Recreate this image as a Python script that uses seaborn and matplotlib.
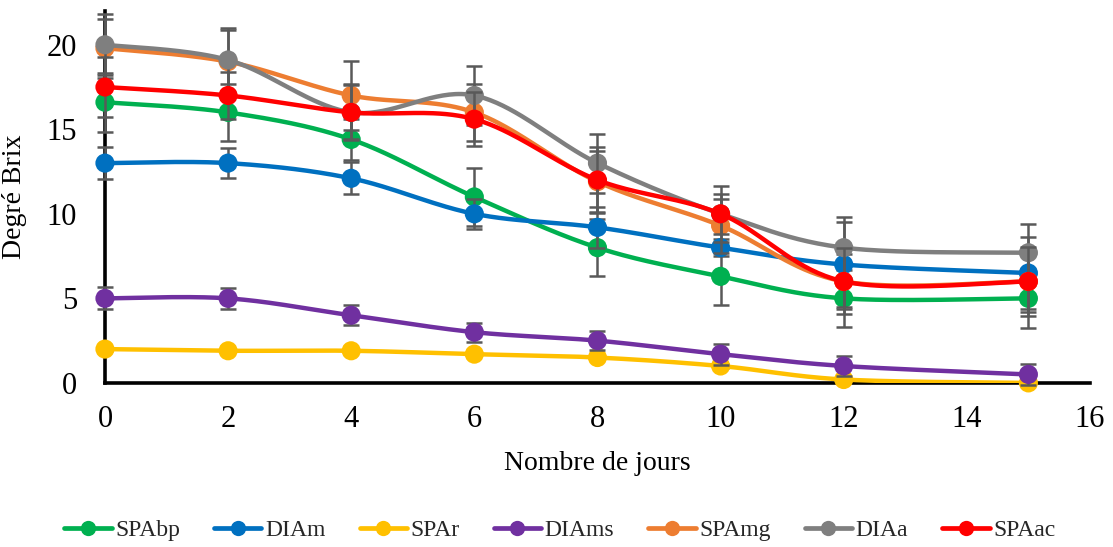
import numpy as np
import pandas as pd
import matplotlib
matplotlib.use("Agg")
import matplotlib.pyplot as plt
import seaborn as sns
from matplotlib.lines import Line2D

# Days of fermentation and Brix readings per preparation
days = [0, 2, 4, 6, 8, 10, 12, 15]
series_names = ["SPAbp", "DIAm", "SPAr", "DIAms", "SPAmg", "DIAa", "SPAac"]

spabp = [16.6, 16.0, 14.4, 11.0, 8.0, 6.3, 5.0, 5.0]
diam = [13.0, 13.0, 12.1, 10.0, 9.2, 8.0, 7.0, 6.5]
spar = [2.0, 1.9, 1.9, 1.7, 1.5, 1.0, 0.2, 0.0]
diams = [5.0, 5.0, 4.0, 3.0, 2.5, 1.7, 1.0, 0.5]
spamg = [19.8, 19.0, 17.0, 16.0, 11.9, 9.3, 6.0, 6.0]
diaa = [20.0, 19.1, 16.0, 17.0, 13.0, 10.0, 8.0, 7.7]
spaac = [17.5, 17.0, 16.0, 15.6, 12.0, 10.0, 6.0, 6.0]

# Standard deviations
spabp_err = [1.75, 1.7, 1.2, 1.7, 1.7, 1.7, 1.7, 1.75]
diam_err = [0.95, 0.9, 0.95, 0.9, 1.2, 0.5, 2.5, 2.1]
spar_err = [0.1, 0.1, 0.1, 0.1, 0.1, 0.1, 0.1, 0.1]
diams_err = [0.65, 0.6, 0.6, 0.57, 0.57, 0.63, 0.6, 0.6]
spamg_err = [1.75, 1.85, 2.05, 1.7, 1.8, 1.6, 1.65, 1.8]
diaa_err = [1.8, 1.9, 1.6, 1.75, 1.75, 1.65, 1.8, 1.7]
spaac_err = [1.8, 1.4, 1.65, 1.6, 1.95, 1.2, 1.95, 2.05]

values = [spabp, diam, spar, diams, spamg, diaa, spaac]
errors = [spabp_err, diam_err, spar_err, diams_err, spamg_err, diaa_err, spaac_err]
colors = ["#00B050", "#0070C0", "#FFC000", "#7030A0", "#ED7D31", "#7F7F7F", "#FF0000"]
err_color = "#595959"


def smooth_curve(x, y, n=40):
    """Cardinal (Catmull-Rom) Bezier smoothing through the given points."""
    p = np.column_stack([x, y]).astype(float)
    pts = np.vstack([p[0], p, p[-1]])
    out = []
    t = np.linspace(0, 1, n)[:, None]
    for i in range(1, len(pts) - 2):
        p0, p1, p2, p3 = pts[i - 1], pts[i], pts[i + 1], pts[i + 2]
        b1 = p1 + (p2 - p0) / 6.0
        b2 = p2 - (p3 - p1) / 6.0
        seg = ((1 - t) ** 3) * p1 + 3 * ((1 - t) ** 2) * t * b1 + 3 * (1 - t) * t ** 2 * b2 + t ** 3 * p2
        out.append(seg if i == 1 else seg[1:])
    out = np.vstack(out)
    return out[:, 0], out[:, 1]


sns.set_theme(style="white")
plt.rcParams["font.family"] = ["Liberation Serif", "DejaVu Serif"]

fig = plt.figure(figsize=(11.13, 5.47), dpi=100)
ax = fig.add_axes([0.0943, 0.300, 0.8850, 0.680])

for k, (name, vals, errs, col) in enumerate(zip(series_names, values, errors, colors)):
    z = 2 + k * 0.1
    ax.errorbar(days, vals, yerr=errs, fmt="none", ecolor=err_color,
                elinewidth=1.8, capsize=6, capthick=1.8, zorder=z, clip_on=False)
    sx, sy = smooth_curve(days, vals)
    curve = pd.DataFrame({"x": sx, "y": sy})
    sns.lineplot(data=curve, x="x", y="y", ax=ax, color=col, linewidth=3.2,
                 sort=False, estimator=None, zorder=z + 0.01)
    pts = pd.DataFrame({"x": days, "y": vals})
    sns.scatterplot(data=pts, x="x", y="y", ax=ax, color=col, s=190,
                    edgecolor="none", zorder=z + 0.02, clip_on=False)

ax.set_xlim(0, 16)
ax.set_ylim(0, 22)
ax.set_xticks(range(0, 17, 2))
ax.set_yticks([0, 5, 10, 15, 20])
ax.tick_params(axis="both", length=0, labelsize=22, colors="black")
ax.tick_params(axis="y", pad=20)
ax.tick_params(axis="x", pad=16)

for side in ["top", "right"]:
    ax.spines[side].set_visible(False)
for side in ["left", "bottom"]:
    ax.spines[side].set_color("black")
    ax.spines[side].set_linewidth(2.6)
    ax.spines[side].set_zorder(1.5)

ax.set_xlabel("Nombre de jours", fontsize=20, color="black", labelpad=12)
ax.set_ylabel("Degré Brix", fontsize=20, color="black", labelpad=14)

handles = [Line2D([0], [0], color=c, lw=3.4, marker="o", markersize=11, markeredgewidth=0)
           for c in colors]
fig.legend(handles, series_names, loc="center", bbox_to_anchor=(0.503, 0.03), ncol=7,
           frameon=False, fontsize=17, handlelength=2.0, handletextpad=0.15, columnspacing=1.45)

fig.savefig("out.png", dpi=100)
